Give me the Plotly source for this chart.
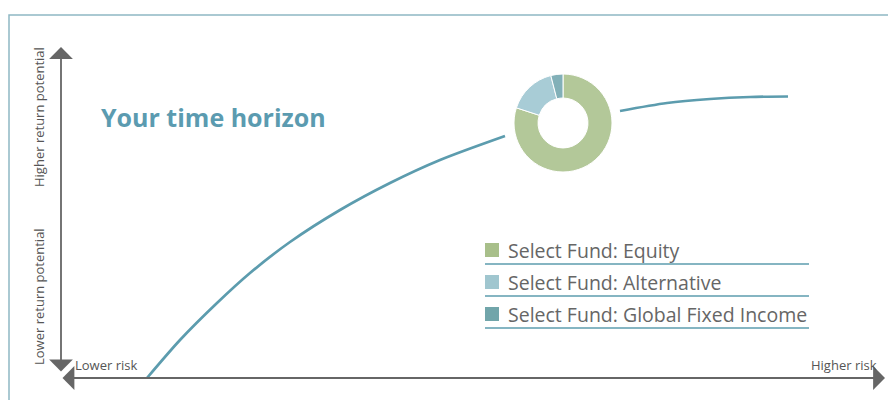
import plotly.graph_objects as go

# ---- data ----
fund_labels = ["Select Fund: Equity", "Select Fund: Alternative", "Select Fund: Global Fixed Income"]
fund_weights = [80, 16, 4]

curve_low_risk = [147, 180, 217, 250, 290, 340, 390, 440, 505]
curve_low_return = [22, 60, 97, 127, 158, 190, 217, 240, 264]
curve_high_risk = [620, 667, 710, 750, 788]
curve_high_return = [289, 297, 301, 303, 303.5]

title_text = "Your time horizon"
y_labels = ["Higher return potential", "Lower return potential"]
x_labels = ["Lower risk", "Higher risk"]

# ---- styles ----
W, H = 888, 400
pie_colors = ["#b3c899", "#a8ccd6", "#82b0b8"]
swatch_colors = ["#a8bf8a", "#a0c6cf", "#71a5aa"]
curve_color = "#5c9cae"
axis_color = "#666666"
frame_color = "#8fb8c4"
text_color = "#666666"
FONT = "Open Sans"


def Y(py):
    return H - py


fig = go.Figure()

for rx, ry in [(curve_low_risk, curve_low_return), (curve_high_risk, curve_high_return)]:
    fig.add_trace(go.Scatter(x=rx, y=ry, mode="lines",
                             line=dict(color=curve_color, width=2.7, shape="spline", smoothing=0.8),
                             hoverinfo="skip", showlegend=False))

fig.add_trace(go.Pie(labels=fund_labels, values=fund_weights, hole=0.51, sort=False, direction="clockwise",
                     rotation=0, textinfo="none", showlegend=False,
                     marker=dict(colors=pie_colors, line=dict(color="white", width=1)),
                     domain=dict(x=[514 / W, 612 / W], y=[Y(172) / H, Y(74) / H])))

shapes = []
# frame
shapes.append(dict(type="rect", xref="x", yref="y", x0=9, x1=W + 20, y0=Y(15), y1=-20,
                   line=dict(color=frame_color, width=1.5), layer="below"))

annotations = []
arrow_style = dict(xref="x", yref="y", axref="x", ayref="y", showarrow=True, arrowhead=1, arrowside="end+start",
                   arrowsize=2.2, arrowwidth=1.8, arrowcolor=axis_color, text="", standoff=0, startstandoff=0)
# vertical axis arrow
annotations.append(dict(x=61, y=Y(47), ax=61, ay=Y(373), **arrow_style))
# horizontal axis arrow
annotations.append(dict(x=885, y=Y(378), ax=61, ay=Y(378), **arrow_style))

lab_font = dict(family=FONT, size=13, color="#555555")
# axis labels
annotations.append(dict(x=39, y=Y(117), xref="x", yref="y", text=y_labels[0], textangle=-90, showarrow=False,
                        font=lab_font))
annotations.append(dict(x=39, y=Y(297), xref="x", yref="y", text=y_labels[1], textangle=-90, showarrow=False,
                        font=lab_font))
annotations.append(dict(x=73, y=Y(365), xref="x", yref="y", text=x_labels[0], showarrow=False, xanchor="left",
                        font=lab_font))
annotations.append(dict(x=879, y=Y(365), xref="x", yref="y", text=x_labels[1], showarrow=False, xanchor="right",
                        font=lab_font))

# title
annotations.append(dict(x=99, y=Y(117), xref="x", yref="y", text="<b>" + title_text + "</b>", showarrow=False,
                        xanchor="left", font=dict(family=FONT, size=25, color="#5b9bb0")))

# legend
row_y = [250, 282, 314]
for i, lab in enumerate(fund_labels):
    cy = row_y[i]
    shapes.append(dict(type="rect", xref="x", yref="y", x0=485, x1=499, y0=Y(cy - 7), y1=Y(cy + 7),
                       fillcolor=swatch_colors[i], line=dict(width=0)))
    shapes.append(dict(type="line", xref="x", yref="y", x0=485, x1=809, y0=Y(cy + 14), y1=Y(cy + 14),
                       line=dict(color=curve_color, width=1.5)))
    annotations.append(dict(x=506, y=Y(cy), xref="x", yref="y", text=lab, showarrow=False, xanchor="left",
                            font=dict(family=FONT, size=19.5, color=text_color)))

fig.update_layout(
    width=W, height=H, margin=dict(l=0, r=0, t=0, b=0),
    paper_bgcolor="white", plot_bgcolor="white",
    xaxis=dict(range=[0, W], visible=False, fixedrange=True),
    yaxis=dict(range=[0, H], visible=False, fixedrange=True),
    shapes=shapes, annotations=annotations, showlegend=False,
)

fig.write_html("out.html")
